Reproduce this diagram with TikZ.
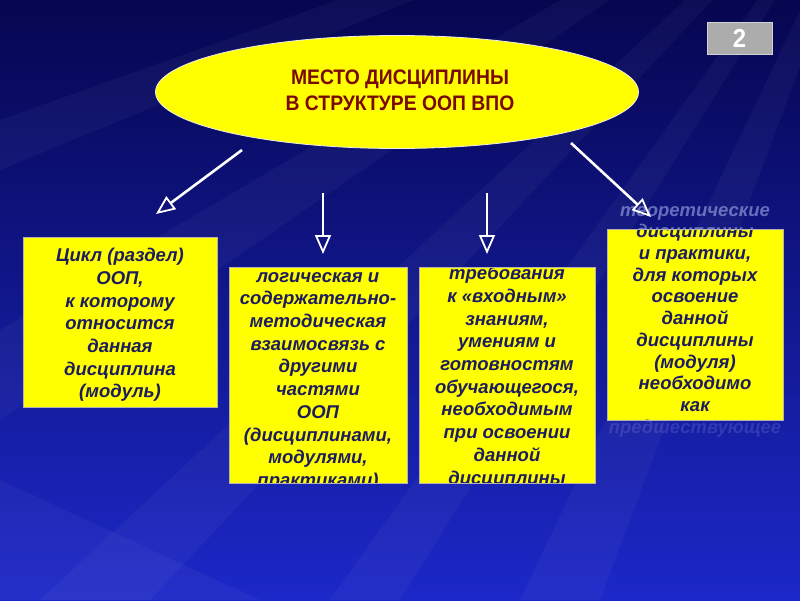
\documentclass[tikz,border=0pt]{standalone}
\usepackage{fontspec}
\setmainfont{Liberation Sans}
\newfontfamily\titlefont[FakeStretch=0.92]{Liberation Sans Bold}
\usetikzlibrary{arrows.meta,shapes.geometric}
\definecolor{bgtop}{RGB}{6,6,80}
\definecolor{bgmid}{RGB}{12,12,140}
\definecolor{bgbot}{RGB}{28,40,200}
\definecolor{boxyellow}{RGB}{255,255,0}
\definecolor{navytext}{RGB}{28,28,95}
\definecolor{titlered}{RGB}{120,10,0}
\definecolor{ghost}{RGB}{175,185,240}
\tikzset{
  ybox/.style={fill=boxyellow, draw=gray!60, line width=0.8pt, anchor=north west, inner sep=0pt},
  btext/.style={align=center, anchor=north, inner sep=0pt, text=navytext,
    font=\bfseries\itshape\fontsize{18.5}{22.7}\selectfont},
  btextb/.style={btext, font=\bfseries\itshape\fontsize{18.5}{21.7}\selectfont},
  gtext/.style={btextb, text=ghost},
  arr/.style={draw=white, line width=2.6pt,
    -{Triangle[open, length=19pt, width=16pt, line width=1.8pt]}},
  streak/.style={fill=white, opacity=0.035}
}
\begin{document}
\begin{tikzpicture}[x=1pt,y=-1pt]
\useasboundingbox (0,0) rectangle (800,600);
% background
\shade[top color=bgtop, middle color=bgmid, bottom color=bgbot] (0,0) rectangle (800,600);
\fill[streak] (900,-200) -- (0,330) -- (0,420) -- cycle;
\fill[streak] (900,-200) -- (40,600) -- (150,600) -- cycle;
\fill[streak] (900,-200) -- (330,600) -- (400,600) -- cycle;
\fill[streak] (900,-200) -- (520,600) -- (600,600) -- cycle;
\fill[streak] (900,-200) -- (0,120) -- (0,170) -- cycle;
\fill[streak] (0,480) -- (0,600) -- (260,600) -- cycle;

% title ellipse
\node[ellipse, fill=boxyellow, draw=white!85!gray, line width=0.8pt,
      minimum width=483pt, minimum height=113pt, inner sep=0pt] (title) at (397,92) {};
\node[align=center, text=titlered, font=\titlefont\fontsize{21}{26}\selectfont] (titletext) at (400,90)
  {МЕСТО ДИСЦИПЛИНЫ\\В СТРУКТУРЕ ООП ВПО};

% badge
\node[fill=gray!65, draw=gray!35, line width=0.8pt, minimum width=65pt, minimum height=32pt,
      inner sep=0pt, text=white, font=\titlefont\fontsize{26}{26}\selectfont] (badge) at (739.5,38) {2};

% boxes
\node[ybox, minimum width=194pt, minimum height=170pt] (box1) at (23,237) {};
\node[ybox, minimum width=178pt, minimum height=216pt] (box2) at (229,267) {};
\node[ybox, minimum width=176pt, minimum height=216pt] (box3) at (419,267) {};
\node[ybox, minimum width=176pt, minimum height=191pt] (box4) at (607,229) {};

% ghost overflow text of the fourth box
\begin{scope}
\clip (600,150) rectangle (800,229);
\node[gtext, opacity=0.55] (g4a) at (695,206) {теоретические\\дисциплины\\и практики,\\для которых\\освоение\\данной\\дисциплины\\(модуля)\\необходимо\\как\\предшествующее};
\end{scope}
\begin{scope}
\clip (600,420) rectangle (800,480);
\node[gtext, opacity=0.18] (g4b) at (695,206) {теоретические\\дисциплины\\и практики,\\для которых\\освоение\\данной\\дисциплины\\(модуля)\\необходимо\\как\\предшествующее};
\end{scope}

% box texts
\node[btext] (t1) at (120,248) {Цикл (раздел)\\ООП,\\к которому\\относится\\данная\\дисциплина\\(модуль)};
\begin{scope}
\clip (box2.north west) rectangle (box2.south east);
\node[btext] (t2) at (318,272) {логическая и\\содержательно-\\методическая\\взаимосвязь с\\другими\\частями\\ООП\\(дисциплинами,\\модулями,\\практиками)};
\end{scope}
\begin{scope}
\clip (box3.north west) rectangle (box3.south east);
\node[btext] (t3) at (507,266) {требования\\к «входным»\\знаниям,\\умениям и\\готовностям\\обучающегося,\\необходимым\\при освоении\\данной\\дисциплины};
\end{scope}
\begin{scope}
\clip (box4.north west) rectangle (box4.south east);
\node[btextb] (t4) at (695,206) {теоретические\\дисциплины\\и практики,\\для которых\\освоение\\данной\\дисциплины\\(модуля)\\необходимо\\как\\предшествующее};
\end{scope}
\draw[gray!60, line width=0.8pt] (box2.north west) rectangle (box2.south east);
\draw[gray!60, line width=0.8pt] (box3.north west) rectangle (box3.south east);
\draw[gray!60, line width=0.8pt] (box4.north west) rectangle (box4.south east);

% arrows
\coordinate (s1) at (242,150); \coordinate (e1) at (156,214);
\coordinate (s2) at (323,193); \coordinate (e2) at (323,254);
\coordinate (s3) at (487,193); \coordinate (e3) at (487,254);
\coordinate (s4) at (571,143); \coordinate (e4) at (651,217);
\draw[arr] (s1) -- (e1);
\draw[arr] (s2) -- (e2);
\draw[arr] (s3) -- (e3);
\draw[arr] (s4) -- (e4);
\end{tikzpicture}
\end{document}
